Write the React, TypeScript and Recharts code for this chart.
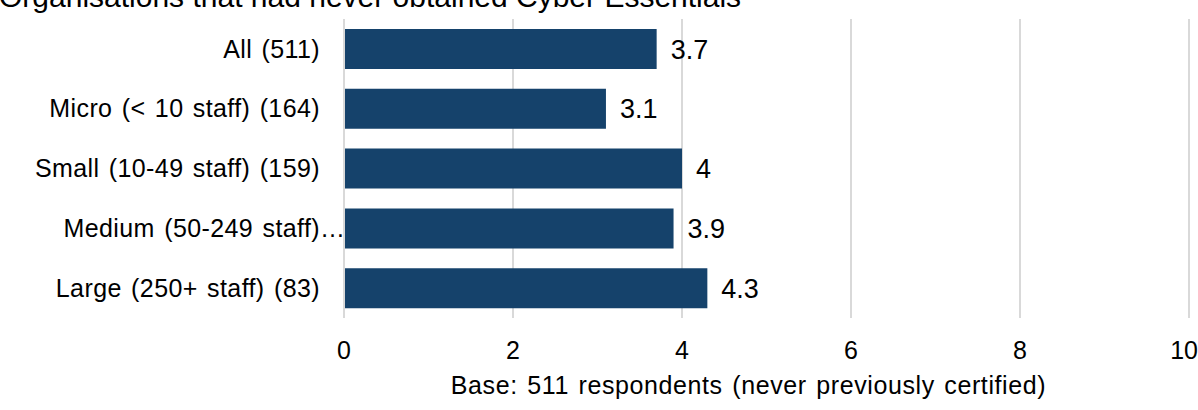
import React from "react";
import { BarChart, Bar, XAxis, YAxis, CartesianGrid, LabelList } from "recharts";

const categories = [
  "All (511)",
  "Micro (< 10 staff) (164)",
  "Small (10-49 staff) (159)",
  "Medium (50-249 staff)…",
  "Large (250+ staff) (83)",
];
const values = [3.7, 3.1, 4, 3.9, 4.3];
const xTicks = [0, 2, 4, 6, 8, 10];
const title = "Organisations that had never obtained Cyber Essentials";
const xAxisTitle = "Base: 511 respondents (never previously certified)";

const data = categories.map((name, i) => ({ name, value: values[i] }));

const FONT = "'Liberation Sans', Arial, sans-serif";
const BAR_COLOR = "#15426B";
const GRID_COLOR = "#D9D9D9";
const TEXT_SIZE = 25;
const TITLE_STYLE = { letterSpacing: "0.6px", wordSpacing: "2px" };
const CATEGORY_STYLE = { letterSpacing: "0.4px", wordSpacing: "2px" };

const CategoryTick = (props: any) => {
  const { x, y, payload } = props;
  const label: string = payload.value;
  const truncated = label.endsWith("…");
  const body = truncated ? label.slice(0, -1) : label;
  const endX = x - 16;
  return (
    <g>
      <text x={endX} y={y} dy="0.35em" textAnchor="end" fontFamily={FONT} fontSize={TEXT_SIZE} fill="#000" style={CATEGORY_STYLE}>
        {body}
      </text>
      {truncated && (
        <text x={endX} y={y} dy="0.35em" textAnchor="start" fontFamily={FONT} fontSize={TEXT_SIZE} fill="#000">
          …
        </text>
      )}
    </g>
  );
};

const AxisTitle = (props: any) => {
  const { viewBox } = props;
  const cx = viewBox.x + viewBox.width / 2 - 18;
  return (
    <text x={cx} y={viewBox.y + 76} textAnchor="middle" fontFamily={FONT} fontSize={TEXT_SIZE} fill="#000" style={TITLE_STYLE}>
      {xAxisTitle}
    </text>
  );
};

export default function App() {
  return (
    <div style={{ position: "absolute", left: 0, top: 0, width: 1198, height: 410, overflow: "hidden", background: "#fff" }}>
      <div
        style={{
          position: "absolute",
          left: -1,
          top: -18.4,
          fontFamily: FONT,
          fontSize: 30,
          lineHeight: "30px",
          color: "#000",
          whiteSpace: "nowrap",
        }}
      >
        {title}
      </div>
      <BarChart
        width={1198}
        height={410}
        data={data}
        layout="vertical"
        margin={{ top: 19, right: 9, bottom: 0, left: 0 }}
        barCategoryGap={10}
      >
        <CartesianGrid horizontal={false} stroke={GRID_COLOR} strokeWidth={2} />
        <XAxis
          type="number"
          domain={[0, 10]}
          ticks={xTicks}
          axisLine={false}
          tickLine={false}
          height={92}
          tickMargin={17}
          tick={{ fontFamily: FONT, fontSize: TEXT_SIZE, fill: "#000" }}
          label={<AxisTitle />}
        />
        <YAxis
          type="category"
          dataKey="name"
          width={344}
          axisLine={{ stroke: GRID_COLOR, strokeWidth: 2 }}
          tickLine={false}
          tick={<CategoryTick />}
          interval={0}
        />
        <Bar dataKey="value" fill={BAR_COLOR} isAnimationActive={false}>
          <LabelList
            dataKey="value"
            position="right"
            offset={14}
            style={{ fontFamily: FONT, fontSize: 27, fill: "#000" }}
          />
        </Bar>
      </BarChart>
    </div>
  );
}
